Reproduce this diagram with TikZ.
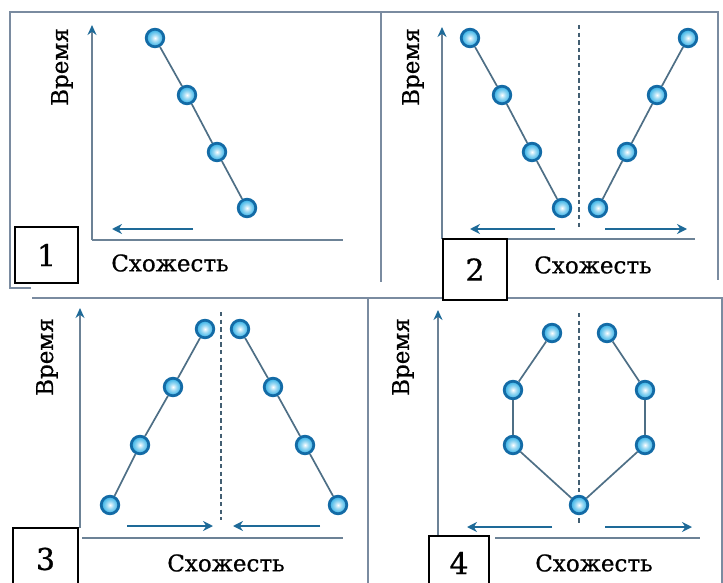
\documentclass[tikz,border=0pt]{standalone}
\usepackage{fontspec}
\setmainfont{DejaVu Serif}[FakeBold=0.7]
\usepackage{tikz}
\usetikzlibrary{arrows.meta}
\definecolor{framegray}{HTML}{7A8BA0}
\definecolor{axisgray}{HTML}{6C8296}
\definecolor{arrowblue}{HTML}{1E6A98}
\definecolor{dotedge}{HTML}{136BA6}
\definecolor{dotcyan}{HTML}{22AAE4}
\definecolor{linkgray}{HTML}{4E6F86}
\pgfdeclareradialshading{dotshade}{\pgfpoint{0bp}{0bp}}{color(0bp)=(white); color(10bp)=(white!55!dotcyan); color(26bp)=(dotcyan); color(50bp)=(dotcyan!85!black)}

\begin{document}
\begin{tikzpicture}[
        x=0.5pt, y=-0.5pt,
        frame/.style = {draw=framegray, line width=0.7pt},
        axis/.style  = {draw=axisgray, line width=0.8pt},
        yaxis/.style = {axis, -{Stealth[length=5pt, width=4.5pt, color=arrowblue]}},
        dirarrow/.style = {draw=arrowblue, line width=1pt, -{Stealth[length=5pt, width=5pt]}},
        midline/.style = {draw=linkgray!85!black, line width=0.7pt, dash pattern=on 2.2pt off 1.6pt},
        dot/.style  = {circle, draw=dotedge, line width=1.4pt, minimum size=8.8pt, inner sep=0pt,
                       shading=dotshade},
        link/.style = {draw=linkgray, line width=0.85pt},
        numbox/.style = {draw=black, line width=0.6pt, fill=white, font=\fontsize{15}{17}\selectfont},
        lab/.style  = {font=\fontsize{11.5}{13}\selectfont},
    ]
        \useasboundingbox (0,0) rectangle (723,583);
        % frames
        \draw[frame] (31,288) -- (10,288) -- (10,12) -- (718,12) -- (718,280);
        \draw[frame] (381,12) -- (381,282);
        \draw[frame] (32,298) -- (443,298);
        \draw[frame] (507,298) -- (722,298) -- (722,583);
        \draw[frame] (368,298) -- (368,583);

        % axes
        \draw[yaxis] (92,240) -- (92,25);
        \draw[axis] (92,240) -- (343,240);
        \draw[yaxis] (442,239) -- (442,27);
        \draw[axis] (442,239) -- (695,239);
        \draw[yaxis] (80,528) -- (80,308);
        \draw[axis] (82,538) -- (343,538);
        \draw[yaxis] (438,536) -- (438,310);
        \draw[axis] (495,538) -- (700,538);

        % direction arrows
        \draw[dirarrow] (193,229) -- (112,229);
        \draw[dirarrow] (555,229) -- (470,229);
        \draw[dirarrow] (605,229) -- (687,229);
        \draw[dirarrow] (127,526) -- (213,526);
        \draw[dirarrow] (320,526) -- (233,526);
        \draw[dirarrow] (552,527) -- (467,527);
        \draw[dirarrow] (605,527) -- (692,527);

        % symmetry lines
        \draw[midline] (579,25) -- (579,227);
        \draw[midline] (221,312) -- (221,520);
        \draw[midline] (579,313) -- (579,523);

        % labels
        \node[lab, rotate=90] (t1) at (62,67) {Время};
        \node[lab] (s1) at (170,263) {Схожесть};
        \node[lab, rotate=90] (t2) at (413,67) {Время};
        \node[lab] (s2) at (593,265) {Схожесть};
        \node[lab, rotate=90] (t3) at (47,357) {Время};
        \node[lab] (s3) at (226,563) {Схожесть};
        \node[lab, rotate=90] (t4) at (403,357) {Время};
        \node[lab] (s4) at (594,563) {Схожесть};

        % number boxes
        \node[numbox, minimum width=31.5pt, minimum height=28pt] (n1) at (46.5,255) {1};
        \node[numbox, minimum width=32pt, minimum height=30.5pt] (n2) at (475,269.5) {2};
        \node[numbox, minimum width=32.5pt, minimum height=31pt] (n3) at (45.5,559) {3};
        \node[numbox, minimum width=30pt, minimum height=27pt] (n4) at (459,563) {4};

        % panel 1
        \node[dot] (a1) at (155,38) {};
        \node[dot] (a2) at (187,95) {};
        \node[dot] (a3) at (217,152) {};
        \node[dot] (a4) at (247,208) {};
        \draw[link] (a1) -- (a2) -- (a3) -- (a4);

        % panel 2
        \node[dot] (b1) at (470,38) {};
        \node[dot] (b2) at (502,95) {};
        \node[dot] (b3) at (532,152) {};
        \node[dot] (b4) at (562,208) {};
        \node[dot] (b5) at (598,208) {};
        \node[dot] (b6) at (627,152) {};
        \node[dot] (b7) at (657,95) {};
        \node[dot] (b8) at (688,38) {};
        \draw[link] (b1) -- (b2) -- (b3) -- (b4);
        \draw[link] (b5) -- (b6) -- (b7) -- (b8);

        % panel 3
        \node[dot] (c1) at (110,505) {};
        \node[dot] (c2) at (140,445) {};
        \node[dot] (c3) at (173,387) {};
        \node[dot] (c4) at (205,329) {};
        \node[dot] (c5) at (240,329) {};
        \node[dot] (c6) at (273,387) {};
        \node[dot] (c7) at (305,445) {};
        \node[dot] (c8) at (338,505) {};
        \draw[link] (c1) -- (c2) -- (c3) -- (c4);
        \draw[link] (c5) -- (c6) -- (c7) -- (c8);

        % panel 4
        \node[dot] (d1) at (552,333) {};
        \node[dot] (d2) at (513,390) {};
        \node[dot] (d3) at (513,445) {};
        \node[dot] (d4) at (579,505) {};
        \node[dot] (d5) at (645,445) {};
        \node[dot] (d6) at (645,390) {};
        \node[dot] (d7) at (607,333) {};
        \draw[link] (d1) -- (d2) -- (d3) -- (d4) -- (d5) -- (d6) -- (d7);
    \end{tikzpicture}
\end{document}
